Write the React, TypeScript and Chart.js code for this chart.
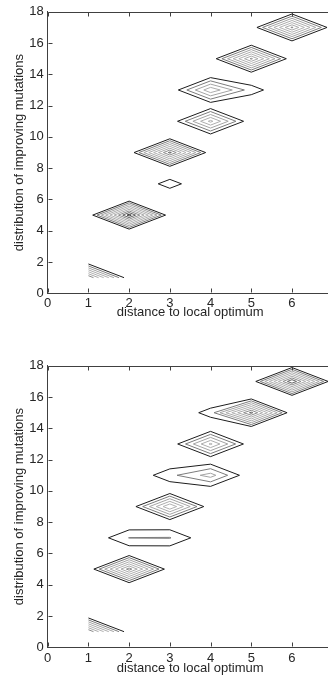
import React, { useEffect, useRef } from 'react';
import { Chart, registerables } from 'chart.js';

Chart.register(...registerables);

// grid on which the contoured matrix is sampled
const gridX = [1, 2, 3, 4, 5, 6, 7];
const gridY = [1, 2, 3, 4, 5, 6, 7, 8, 9, 10, 11, 12, 13, 14, 15, 16, 17, 18];
const contourLevels = [1, 2, 3, 4, 5, 6, 7, 8, 9];
const levelColors = ['#1c1c1c', '#7c7c7c', '#a4a4a4', '#adadad', '#b2b2b2', '#aaaaaa', '#8c8c8c', '#626262', '#3e3e3e'];

const xTickValues = [0, 1, 2, 3, 4, 5, 6, 7];
const yTickValues = [0, 2, 4, 6, 8, 10, 12, 14, 16, 18];

const xTitle = 'distance to local optimum';
const yTitle = 'distribution of improving mutations';

// non-zero cells of the upper matrix
const topCellX = [1, 2, 3, 3, 4, 4, 5, 5, 6];
const topCellY = [1, 5, 7, 9, 11, 13, 13, 15, 17];
const topCellZ = [8, 9.5, 1.4, 8.3, 5.3, 4.8, 1.43, 7.2, 7.2];

// non-zero cells of the lower matrix
const bottomCellX = [1, 2, 2, 3, 3, 3, 4, 4, 4, 5, 6];
const bottomCellY = [1, 5, 7, 7, 9, 11, 11, 13, 15, 15, 17];
const bottomCellZ = [8, 7.5, 2.03, 2.06, 6, 1.69, 3.45, 5.2, 1.41, 8.3, 9];

const FONT = "'Liberation Sans', Arial, sans-serif";
const TEXT = '#262626';
const AXIS = '#404040';

type Pt = { x: number; y: number | null };

function buildMatrix(cx: number[], cy: number[], cz: number[]): number[][] {
  const m = gridY.map(() => gridX.map(() => 0));
  for (let k = 0; k < cx.length; k++) {
    const i = gridX.indexOf(cx[k]);
    const j = gridY.indexOf(cy[k]);
    if (i >= 0 && j >= 0) m[j][i] = cz[k];
  }
  return m;
}

function contourSegments(m: number[][], c: number): Pt[] {
  const out: Pt[] = [];
  const lerp = (a: number, b: number, va: number, vb: number) => a + ((c - va) / (vb - va)) * (b - a);
  for (let j = 0; j < gridY.length - 1; j++) {
    for (let i = 0; i < gridX.length - 1; i++) {
      const x0 = gridX[i], x1 = gridX[i + 1], y0 = gridY[j], y1 = gridY[j + 1];
      const bl = m[j][i], br = m[j][i + 1], tr = m[j + 1][i + 1], tl = m[j + 1][i];
      const hb = bl >= c, hbr = br >= c, htr = tr >= c, htl = tl >= c;
      const edges: Record<string, { x: number; y: number } | null> = {
        bottom: hb !== hbr ? { x: lerp(x0, x1, bl, br), y: y0 } : null,
        right: hbr !== htr ? { x: x1, y: lerp(y0, y1, br, tr) } : null,
        top: htl !== htr ? { x: lerp(x0, x1, tl, tr), y: y1 } : null,
        left: hb !== htl ? { x: x0, y: lerp(y0, y1, bl, tl) } : null,
      };
      const found = Object.keys(edges).filter((k) => edges[k]);
      const pairs: [string, string][] = [];
      if (found.length === 2) pairs.push([found[0], found[1]]);
      else if (found.length === 4) {
        const centreHigh = (bl + br + tr + tl) / 4 >= c;
        const corners: [boolean, string, string][] = [
          [hb, 'bottom', 'left'],
          [hbr, 'bottom', 'right'],
          [htr, 'right', 'top'],
          [htl, 'top', 'left'],
        ];
        corners.forEach(([h, e1, e2]) => {
          if (h !== centreHigh) pairs.push([e1, e2]);
        });
      }
      pairs.forEach(([a, b]) => {
        const p = edges[a]!, q = edges[b]!;
        out.push({ x: p.x, y: p.y }, { x: q.x, y: q.y }, { x: q.x, y: null });
      });
    }
  }
  return out;
}

const frameTicks = {
  id: 'frameTicks',
  afterDraw(chart: any) {
    const { ctx, chartArea: a, scales } = chart;
    const len = 4;
    ctx.save();
    ctx.strokeStyle = AXIS;
    ctx.lineWidth = 1;
    ctx.beginPath();
    const top = Math.round(a.top) + 0.5;
    const right = Math.round(a.right) + 0.5;
    const bottom = Math.round(a.bottom) - 0.5;
    const left = Math.round(a.left) + 0.5;
    ctx.moveTo(left, top);
    ctx.lineTo(right, top);
    ctx.lineTo(right, bottom);
    xTickValues.forEach((v) => {
      const px = Math.round(scales.x.getPixelForValue(v)) + 0.5;
      ctx.moveTo(px, bottom);
      ctx.lineTo(px, bottom - len);
      ctx.moveTo(px, top);
      ctx.lineTo(px, top + len);
    });
    yTickValues.forEach((v) => {
      const py = Math.round(scales.y.getPixelForValue(v)) + 0.5;
      ctx.moveTo(left, py);
      ctx.lineTo(left + len, py);
      ctx.moveTo(right, py);
      ctx.lineTo(right - len, py);
    });
    ctx.stroke();
    ctx.restore();
  },
};

type Layout = { top: number; tickPad: number; xHeight: number };

function makeChart(canvas: HTMLCanvasElement, cx: number[], cy: number[], cz: number[], lay: Layout) {
  const m = buildMatrix(cx, cy, cz);
  const datasets = contourLevels.map((c, k) => ({
    label: 'level ' + c,
    data: contourSegments(m, c),
    showLine: true,
    spanGaps: false,
    borderColor: levelColors[k],
    backgroundColor: levelColors[k],
    borderWidth: 1,
    pointRadius: 0,
    fill: false,
  }));
  const H = canvas.height;
  const axisBottom = 293.3;
  return new Chart(canvas, {
    type: 'scatter',
    data: { datasets },
    options: {
      animation: false,
      responsive: false,
      devicePixelRatio: 1,
      events: [],
      layout: { padding: { left: 12, right: 340 - 332.7, top: lay.top, bottom: H - axisBottom - lay.xHeight } },
      plugins: { legend: { display: false }, tooltip: { enabled: false } },
      scales: {
        x: {
          type: 'linear',
          min: 0,
          max: 7,
          afterBuildTicks: (s: any) => {
            s.ticks = xTickValues.map((v) => ({ value: v }));
          },
          afterFit: (s: any) => {
            s.height = lay.xHeight;
          },
          ticks: { padding: lay.tickPad, color: TEXT, font: { family: FONT, size: 13 }, maxRotation: 0, autoSkip: false },
          grid: { display: false, drawTicks: false },
          border: { display: true, color: AXIS, width: 1 },
          title: { display: true, text: xTitle, color: TEXT, font: { family: FONT, size: 13 }, padding: 0 },
        },
        y: {
          type: 'linear',
          min: 0,
          max: 18,
          afterBuildTicks: (s: any) => {
            s.ticks = yTickValues.map((v) => ({ value: v }));
          },
          afterFit: (s: any) => {
            s.width = 35.7;
          },
          ticks: { padding: 4, color: TEXT, font: { family: FONT, size: 13 }, autoSkip: false },
          grid: { display: false, drawTicks: false },
          border: { display: true, color: AXIS, width: 1 },
          title: { display: true, text: yTitle, color: TEXT, font: { family: FONT, size: 13 }, padding: 0 },
        },
      },
    } as any,
    plugins: [frameTicks],
  });
}

export default function App() {
  const topRef = useRef<HTMLCanvasElement>(null);
  const bottomRef = useRef<HTMLCanvasElement>(null);
  useEffect(() => {
    document.body.style.margin = '0';
    document.body.style.overflow = 'hidden';
    const c1 = makeChart(topRef.current!, topCellX, topCellY, topCellZ, { top: 9.5, tickPad: 2, xHeight: 27 });
    const c2 = makeChart(bottomRef.current!, bottomCellX, bottomCellY, bottomCellZ, { top: 9.5, tickPad: 3, xHeight: 29 });
    return () => {
      c1.destroy();
      c2.destroy();
    };
  }, []);
  return (
    <div style={{ position: 'absolute', left: 0, top: 0, width: 328, height: 681, overflow: 'hidden', background: '#fff' }}>
      <canvas ref={topRef} width={340} height={340} style={{ position: 'absolute', left: 0, top: 0 }} />
      <canvas ref={bottomRef} width={340} height={340} style={{ position: 'absolute', left: 0, top: 354 }} />
    </div>
  );
}
